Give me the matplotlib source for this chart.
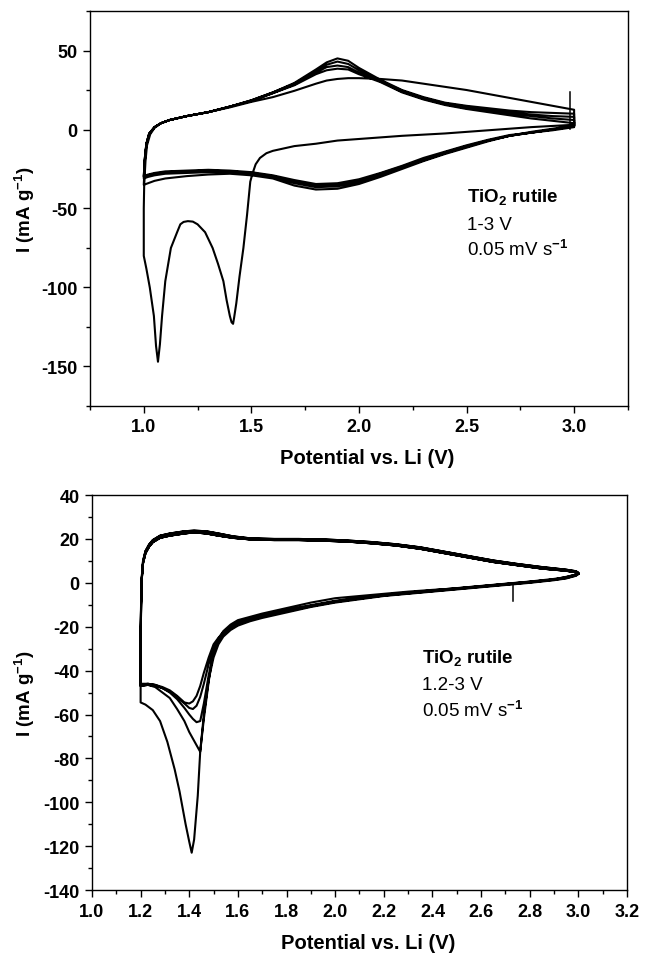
import matplotlib.pyplot as plt
from matplotlib.ticker import MultipleLocator

# ---- top panel: 1-3 V window, cycles 1..5 ----
top_c1_cath_v = [3.0, 2.8, 2.6, 2.4, 2.2, 2.0, 1.9, 1.8, 1.7, 1.65, 1.6, 1.57, 1.54, 1.52, 1.505,
                 1.495, 1.48, 1.463, 1.445, 1.43, 1.42, 1.415, 1.408, 1.40, 1.385, 1.37, 1.345, 1.32,
                 1.285, 1.25, 1.228, 1.205, 1.185, 1.17, 1.155, 1.126, 1.10, 1.085, 1.075, 1.066,
                 1.057, 1.047, 1.028, 1.012, 1.003, 1.0]
top_c1_cath_i = [3, 1.5, -0.5, -2.5, -4, -6, -7, -9, -10.5, -12, -13.5, -15, -18, -22, -28,
                 -33, -54, -75, -93, -110, -119, -123, -122, -118, -108, -96, -85, -75,
                 -65, -60, -58.3, -58, -58.5, -60, -65, -75, -96, -118, -136, -147,
                 -137, -118, -100, -88, -82, -80]
top_c1_anod_v = [1.0, 1.0, 1.002, 1.008, 1.015, 1.03, 1.05, 1.08, 1.12, 1.2, 1.3, 1.4, 1.5, 1.6,
                 1.7, 1.8, 1.85, 1.9, 1.95, 2.0, 2.1, 2.2, 2.3, 2.4, 2.5, 2.6, 2.7, 2.8, 2.9, 3.0]
top_c1_anod_i = [-80, -50, -35, -20, -10, -3, 1, 4, 6, 8.5, 11, 14, 17.5, 20.5,
                 24.5, 29, 31, 32, 32.5, 32.5, 32, 31, 29, 27, 25, 22.5, 20, 17.5, 15, 12.5]

top_cath_v = [3.0, 2.9, 2.8, 2.7, 2.6, 2.5, 2.4, 2.3, 2.2, 2.1, 2.0, 1.9, 1.8, 1.7, 1.6, 1.5,
              1.4, 1.3, 1.2, 1.1, 1.05, 1.02, 1.0]
top_anod_v = [1.0, 1.005, 1.012, 1.025, 1.05, 1.08, 1.12, 1.2, 1.3, 1.4, 1.5, 1.6, 1.7, 1.8,
              1.85, 1.9, 1.95, 2.0, 2.1, 2.2, 2.3, 2.4, 2.5, 2.6, 2.7, 2.8, 2.9, 3.0]

top_c2_cath_i = [2.5, 0.5, -1.5, -4, -7.5, -11.5, -15.5, -20, -25, -30, -34.5, -37.5, -38, -35.5,
                 -31, -29, -28, -28.5, -29.5, -31, -32.5, -34, -35]
top_c3_cath_i = [2, 0, -2, -4, -7, -11, -15, -19.5, -24, -29, -33.5, -36, -36.5, -34,
                 -30, -28, -27, -27, -27.5, -28, -29, -30, -31]
top_c4_cath_i = [2, 0, -2, -4, -7, -10.5, -14.5, -19, -23.5, -28, -32.5, -35, -35.5, -33,
                 -29.5, -27.5, -26.5, -26, -26.5, -27, -28, -29, -30]
top_c5_cath_i = [1.5, -0.5, -2, -3.5, -6.5, -10, -14, -18, -23, -27.5, -31.5, -34, -34.5, -32,
                 -29, -27, -26, -25.5, -26, -26.5, -27.5, -28.5, -29.5]

top_c2_anod_i = [-35, -20, -10, -3, 1.5, 4, 6, 8.5, 11, 14.5, 18.5, 23.5, 29.5, 38,
                 42.5, 45, 43.5, 39, 31.5, 25, 20.5, 17, 15, 13.5, 12, 11, 10.5, 10]
top_c3_anod_i = [-31, -19, -9.5, -3, 1.5, 4, 6, 8.5, 11, 14.5, 18.5, 23.5, 29, 37,
                 41, 43, 41.5, 37.5, 31, 24.5, 20, 16.5, 14.5, 12.5, 11, 9.5, 8.5, 8]
top_c4_anod_i = [-30, -18, -9, -2.5, 1.5, 4, 6, 8.5, 11, 14.5, 18, 23, 28.5, 36,
                 39.5, 40.5, 39.5, 36, 30.5, 24, 19.5, 16, 13.5, 12, 10, 8.5, 7, 6]
top_c5_anod_i = [-29.5, -18, -9, -2.5, 1.5, 4, 6, 8.5, 11, 14.5, 18, 23, 28, 35,
                 37.5, 38.5, 38, 35, 30, 23.5, 19, 15.5, 13, 11, 9, 7, 5.5, 4]

top_spike_v = [2.98, 2.98]
top_spike_i = [0.5, 24]

# ---- bottom panel: 1.2-3 V window, cycles 1..5 ----
bot_c1_cath_v = [3.0, 2.9, 2.8, 2.7, 2.6, 2.5, 2.4, 2.3, 2.2, 2.1, 2.0, 1.9, 1.8, 1.7, 1.65, 1.6,
                 1.57, 1.54, 1.52, 1.50, 1.48, 1.46, 1.445, 1.435, 1.42, 1.41, 1.40, 1.385, 1.36,
                 1.34, 1.31, 1.28, 1.25, 1.22, 1.2]
bot_c1_cath_i = [4, 1.5, 0.5, -0.5, -1.5, -2.5, -3.2, -4, -5, -6, -7, -9, -11.5, -14, -15.5, -17,
                 -19, -22, -25.5, -30, -45, -62, -77, -97, -117, -123, -118, -110, -95,
                 -85, -72.5, -63, -58, -55.5, -54.5]

bot_cath_v = [3.0, 2.99, 2.95, 2.9, 2.8, 2.7, 2.6, 2.5, 2.4, 2.3, 2.2, 2.1, 2.0, 1.9, 1.8, 1.7,
              1.65, 1.6, 1.57, 1.54, 1.52, 1.50, 1.48, 1.46, 1.445, 1.43, 1.415, 1.40, 1.38, 1.35,
              1.32, 1.29, 1.26, 1.23, 1.2]
bot_c2_cath_i = [4, 3.2, 2, 1.2, 0, -1, -2, -3, -4, -5, -6, -7.5, -9, -11, -13.5, -16,
                 -17.5, -19.5, -21.5, -24.5, -28, -34, -44, -60, -77, -74, -71, -68, -63, -57.5,
                 -52.5, -50, -47.5, -46.5, -47]
bot_c3_cath_i = [4.2, 3.4, 2.2, 1.4, 0.2, -0.8, -1.8, -2.8, -3.8, -4.8, -5.8, -7.2, -8.7, -10.7, -13, -15.5,
                 -17, -19, -21, -23.5, -26.5, -32, -42, -55, -63, -63.5, -62, -60, -57, -53,
                 -50, -48, -47, -46.5, -47]
bot_c4_cath_i = [4.4, 3.6, 2.4, 1.6, 0.4, -0.6, -1.6, -2.6, -3.6, -4.6, -5.6, -7, -8.4, -10.4, -12.6, -15,
                 -16.5, -18.5, -20.5, -23, -25.5, -29.5, -37, -46, -52, -56, -57.5, -57, -55, -52,
                 -49.5, -48, -46.5, -46, -46.5]
bot_c5_cath_i = [4.6, 3.8, 2.6, 1.8, 0.6, -0.4, -1.4, -2.4, -3.4, -4.4, -5.4, -6.8, -8.2, -10.2, -12.3, -14.5,
                 -16, -18, -20, -22.5, -25, -28, -34, -41, -47, -51.5, -54, -55, -54.5, -51.5,
                 -49, -47.5, -46.5, -46, -46]

bot_anod_v = [1.2, 1.202, 1.205, 1.21, 1.22, 1.235, 1.25, 1.28, 1.32, 1.38, 1.42, 1.47, 1.52, 1.58,
              1.65, 1.75, 1.85, 1.95, 2.05, 2.15, 2.25, 2.35, 2.45, 2.55, 2.65, 2.75, 2.85, 2.95,
              2.99, 3.0]
bot_anod_a_i = [-30, -10, 2, 9, 13.5, 16.5, 18.5, 20.5, 21.5, 22.5, 23, 22.5, 21.5, 20.5,
                19.8, 19.5, 19.5, 19.2, 18.8, 18, 17, 15.5, 13.5, 11.5, 9.5, 8, 6.5, 5.5,
                4.8, 4.2]
bot_anod_b_i = [-28, -8, 3, 10, 14.5, 17.5, 19.5, 21.5, 22.5, 23.5, 23.8, 23.5, 22.5, 21.2,
                20.3, 20, 20, 19.8, 19.3, 18.6, 17.6, 16.2, 14.2, 12.2, 10.2, 8.6, 7.2, 6,
                5.3, 4.6]

bot_spike_v = [2.73, 2.73]
bot_spike_i = [-0.5, -8.5]


plt.rcParams['font.family'] = ['Liberation Sans', 'DejaVu Sans']
plt.rcParams['font.weight'] = 'bold'
plt.rcParams['mathtext.fontset'] = 'custom'
plt.rcParams['mathtext.rm'] = 'Liberation Sans'
plt.rcParams['mathtext.bf'] = 'Liberation Sans:bold'
plt.rcParams['axes.unicode_minus'] = False


def style_axes(ax, xmaj, xmin, ymaj, ymin):
    ax.xaxis.set_major_locator(MultipleLocator(xmaj))
    ax.xaxis.set_minor_locator(MultipleLocator(xmin))
    ax.yaxis.set_major_locator(MultipleLocator(ymaj))
    ax.yaxis.set_minor_locator(MultipleLocator(ymin))
    ax.tick_params(which='both', direction='out', top=False, right=False,
                   width=1.0, labelsize=13)
    ax.tick_params(which='major', length=5, pad=4)
    ax.tick_params(which='minor', length=3)
    for s in ax.spines.values():
        s.set_linewidth(1.0)


def concat(*parts):
    out = []
    for p in parts:
        out += list(p)
    return out


fig = plt.figure(figsize=(6.45, 9.54), dpi=100)

# top panel
ax1 = fig.add_axes([0.1395, 0.5734, 0.834, 0.414])
v_top = concat(top_c1_cath_v, top_c1_anod_v,
               top_cath_v, top_anod_v, top_cath_v, top_anod_v,
               top_cath_v, top_anod_v, top_cath_v, top_anod_v)
i_top = concat(top_c1_cath_i, top_c1_anod_i,
               top_c2_cath_i, top_c2_anod_i, top_c3_cath_i, top_c3_anod_i,
               top_c4_cath_i, top_c4_anod_i, top_c5_cath_i, top_c5_anod_i)
ax1.plot(v_top, i_top, color='black', lw=1.5)
ax1.plot(top_spike_v, top_spike_i, color='black', lw=1.1)
ax1.set_xlim(0.75, 3.25)
ax1.set_ylim(-175, 75)
style_axes(ax1, 0.5, 0.25, 50, 25)
ax1.set_xlabel('Potential vs. Li (V)', fontsize=14.5, fontweight='bold')
ax1.set_ylabel('I (mA g$^{\\mathbf{-1}}$)', fontsize=13.5, fontweight='bold')
ax1.xaxis.set_label_coords(0.516, -0.107)
ax1.yaxis.set_label_coords(-0.098, 0.5)
ax1.text(2.5, -45.6, 'TiO$_\\mathbf{2}$ rutile', fontsize=13.5, fontweight='bold', va='baseline')
ax1.text(2.5, -62.7, '1-3 V', fontsize=13.5, fontweight='normal', va='baseline')
ax1.text(2.5, -79.7, '0.05 mV s$^{-1}$', fontsize=13.5, fontweight='normal', va='baseline')

# bottom panel
ax2 = fig.add_axes([0.1426, 0.066, 0.8295, 0.414])
v_bot = concat(bot_c1_cath_v, bot_anod_v,
               bot_cath_v, bot_anod_v, bot_cath_v, bot_anod_v,
               bot_cath_v, bot_anod_v, bot_cath_v, bot_anod_v)
i_bot = concat(bot_c1_cath_i, bot_anod_a_i,
               bot_c2_cath_i, bot_anod_b_i, bot_c3_cath_i, bot_anod_a_i,
               bot_c4_cath_i, bot_anod_b_i, bot_c5_cath_i, bot_anod_a_i)
ax2.plot(v_bot, i_bot, color='black', lw=1.5)
ax2.plot(bot_spike_v, bot_spike_i, color='black', lw=1.1)
ax2.set_xlim(1.0, 3.2)
ax2.set_ylim(-140, 40)
style_axes(ax2, 0.2, 0.1, 20, 10)
ax2.set_xlabel('Potential vs. Li (V)', fontsize=14.5, fontweight='bold')
ax2.set_ylabel('I (mA g$^{\\mathbf{-1}}$)', fontsize=13.5, fontweight='bold')
ax2.xaxis.set_label_coords(0.516, -0.109)
ax2.yaxis.set_label_coords(-0.103, 0.5)
ax2.text(2.357, -36.6, 'TiO$_\\mathbf{2}$ rutile', fontsize=13.5, fontweight='bold', va='baseline')
ax2.text(2.357, -48.4, '1.2-3 V', fontsize=13.5, fontweight='normal', va='baseline')
ax2.text(2.357, -60.9, '0.05 mV s$^{-1}$', fontsize=13.5, fontweight='normal', va='baseline')

fig.savefig('out.png', dpi=100)
